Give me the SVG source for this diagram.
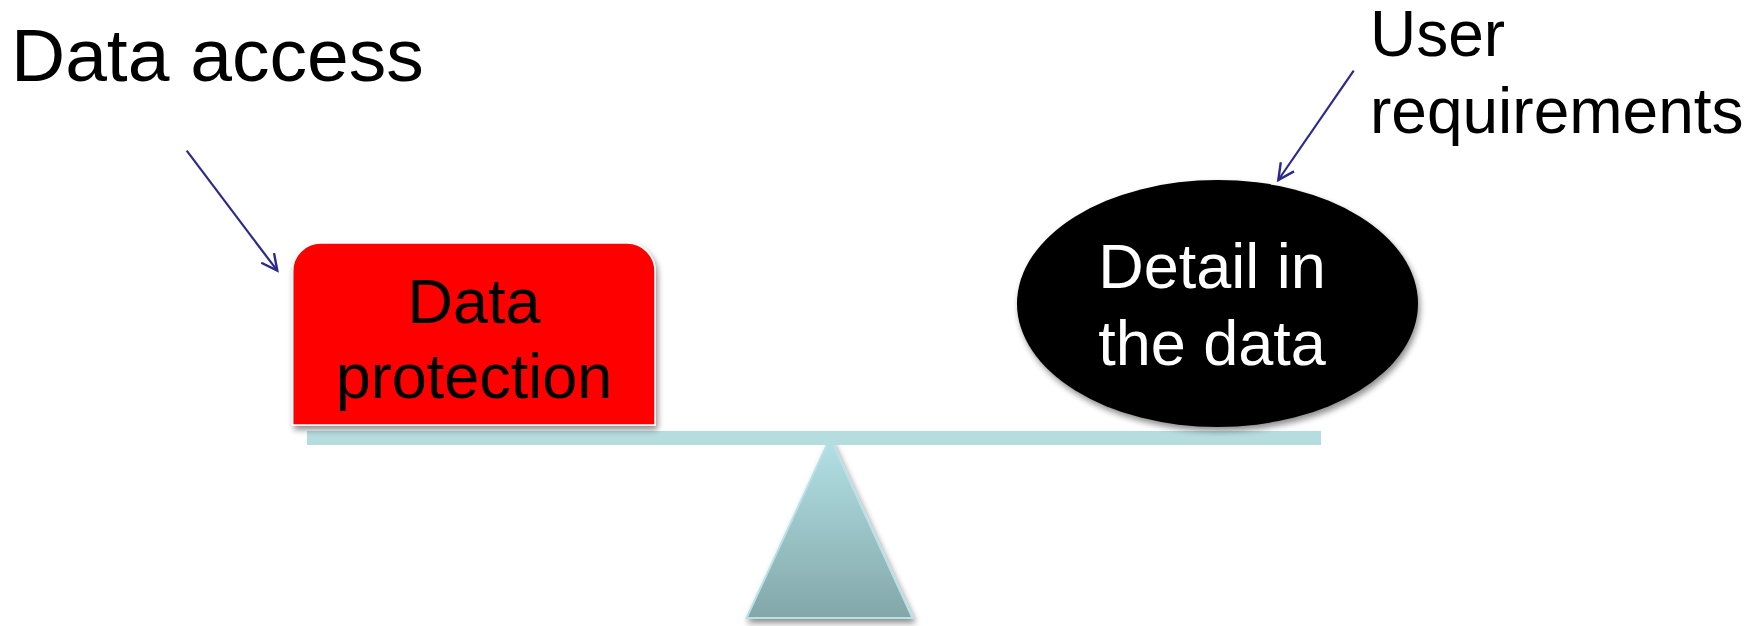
<svg xmlns="http://www.w3.org/2000/svg" width="1764" height="626" viewBox="0 0 1764 626">
  <style>
    .lbl { font-family: "Liberation Sans", Arial, sans-serif; fill: #000; }
    .inner { font-family: "Liberation Sans", Arial, sans-serif; font-size: 63px; text-anchor: middle; }
    .conn { stroke: #2a2a8a; stroke-width: 2.2; fill: none; }
  </style>
  <defs>
    <filter id="shadow" x="-10%" y="-10%" width="125%" height="130%">
      <feGaussianBlur in="SourceAlpha" stdDeviation="3"/>
      <feOffset dx="2" dy="4" result="b"/>
      <feComponentTransfer><feFuncA type="linear" slope="0.45"/></feComponentTransfer>
      <feMerge><feMergeNode/><feMergeNode in="SourceGraphic"/></feMerge>
    </filter>
    <linearGradient id="fulcrumFill" x1="0" y1="0" x2="0" y2="1">
      <stop offset="0" stop-color="#b3e1e6"/>
      <stop offset="1" stop-color="#83a7a9"/>
    </linearGradient>
    <marker id="openHead" markerUnits="userSpaceOnUse" markerWidth="26" markerHeight="26" refX="19" refY="10" orient="auto">
      <path d="M3,2 L19,10 L3,18" fill="none" stroke="#2a2a8a" stroke-width="2.4" stroke-linejoin="miter"/>
    </marker>
  </defs>

  <rect width="1764" height="626" fill="#ffffff"/>

  <!-- balance: beam and fulcrum -->
  <g id="fulcrum" filter="url(#shadow)">
    <path d="M830,438 L912.5,618 L746.5,618 Z" fill="url(#fulcrumFill)" stroke="#b6e2e7" stroke-width="2"/>
  </g>
  <g id="beam">
    <rect x="307" y="431" width="1014" height="14" fill="#b5dcdf"/>
  </g>

  <!-- left weight -->
  <g id="data-protection" filter="url(#shadow)">
    <path d="M292.7,425 V271 A28,28 0 0 1 320.7,243 H627 A28,28 0 0 1 655,271 V425 Z" fill="#ff0000" stroke="#ffffff" stroke-width="1.5"/>
    <text class="inner" x="474" y="323" fill="#000">Data</text>
    <text class="inner" x="474" y="398" fill="#000">protection</text>
  </g>

  <!-- right weight -->
  <g id="detail-in-data" filter="url(#shadow)">
    <ellipse cx="1217.5" cy="303.5" rx="200.5" ry="123.5" fill="#000000"/>
    <text class="inner" x="1212" y="288" fill="#ffffff">Detail in</text>
    <text class="inner" x="1212" y="365" fill="#ffffff">the data</text>
  </g>

  <!-- labels -->
  <g id="label-data-access">
    <text class="lbl" x="11" y="81" font-size="75">Data access</text>
  </g>
  <g id="label-user-requirements">
    <text class="lbl" x="1370" y="56" font-size="64">User</text>
    <text class="lbl" x="1370" y="133" font-size="64">requirements</text>
  </g>

  <!-- connectors -->
  <g id="connectors">
    <line class="conn" x1="186.7" y1="150.7" x2="277.3" y2="270.7" marker-end="url(#openHead)"/>
    <line class="conn" x1="1353.7" y1="70.7" x2="1278.3" y2="180" marker-end="url(#openHead)"/>
  </g>
</svg>
